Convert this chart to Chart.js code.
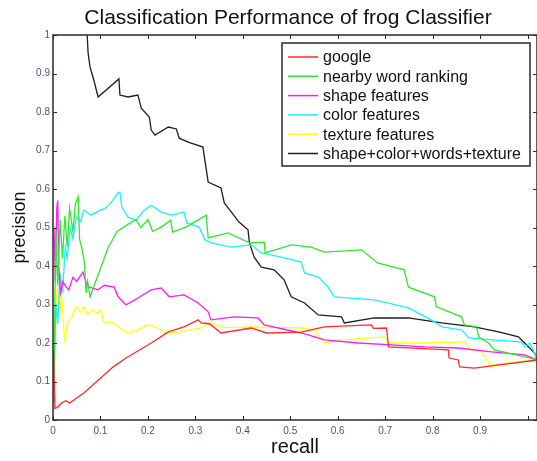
<!DOCTYPE html>
<html>
<head>
<meta charset="utf-8">
<script src="https://cdn.jsdelivr.net/npm/chart.js@4"></script>
<style>
  html, body { margin: 0; padding: 0; background: #fff; }
  #wrap { width: 537px; height: 461px; }
</style>
</head>
<body>
<div id="wrap"><canvas id="chart"></canvas></div>
<script>
// series: [recall, precision] pairs
const google = [[0.001,0.18],[0.004,0.03],[0.01,0.034],[0.018,0.044],[0.027,0.05],[0.035,0.044],[0.065,0.07],[0.127,0.138],[0.154,0.161],[0.207,0.2],[0.243,0.229],[0.276,0.242],[0.306,0.26],[0.312,0.252],[0.33,0.25],[0.354,0.226],[0.418,0.239],[0.45,0.226],[0.523,0.228],[0.572,0.242],[0.671,0.247],[0.675,0.238],[0.703,0.239],[0.707,0.19],[0.833,0.182],[0.835,0.161],[0.854,0.156],[0.857,0.138],[0.888,0.135],[1.021,0.156]];
const wordRanking = [[0.002,0.05],[0.004,0.3],[0.006,0.5],[0.01,0.35],[0.015,0.52],[0.02,0.42],[0.025,0.53],[0.03,0.45],[0.035,0.55],[0.042,0.49],[0.047,0.56],[0.053,0.58],[0.056,0.47],[0.062,0.44],[0.066,0.41],[0.07,0.33],[0.073,0.36],[0.078,0.32],[0.09,0.36],[0.116,0.447],[0.135,0.49],[0.165,0.514],[0.175,0.52],[0.185,0.5],[0.2,0.52],[0.21,0.49],[0.228,0.501],[0.248,0.519],[0.252,0.488],[0.28,0.501],[0.323,0.532],[0.327,0.473],[0.369,0.486],[0.414,0.46],[0.445,0.462],[0.447,0.434],[0.502,0.455],[0.544,0.449],[0.572,0.436],[0.65,0.442],[0.684,0.408],[0.74,0.39],[0.749,0.345],[0.804,0.32],[0.808,0.294],[0.861,0.268],[0.867,0.247],[0.893,0.242],[0.897,0.216],[0.918,0.2],[0.93,0.182],[0.994,0.164],[1.021,0.156]];
const shapeFeat = [[0.002,0.5],[0.005,0.36],[0.008,0.55],[0.01,0.57],[0.012,0.4],[0.016,0.33],[0.021,0.36],[0.025,0.35],[0.033,0.338],[0.042,0.371],[0.05,0.36],[0.063,0.384],[0.07,0.356],[0.076,0.345],[0.095,0.338],[0.108,0.35],[0.129,0.345],[0.137,0.32],[0.154,0.299],[0.179,0.317],[0.207,0.338],[0.228,0.343],[0.245,0.32],[0.276,0.325],[0.306,0.304],[0.327,0.281],[0.333,0.26],[0.382,0.268],[0.432,0.265],[0.445,0.247],[0.523,0.226],[0.572,0.208],[0.643,0.2],[0.713,0.195],[0.783,0.19],[0.854,0.187],[0.924,0.177],[0.994,0.169],[1.021,0.156]];
const colorFeat = [[0.003,0.12],[0.006,0.3],[0.01,0.25],[0.015,0.38],[0.02,0.33],[0.026,0.45],[0.03,0.42],[0.036,0.5],[0.042,0.47],[0.049,0.527],[0.058,0.515],[0.065,0.545],[0.08,0.532],[0.1,0.545],[0.11,0.55],[0.122,0.564],[0.137,0.59],[0.141,0.592],[0.145,0.553],[0.158,0.527],[0.175,0.519],[0.192,0.545],[0.207,0.558],[0.228,0.54],[0.249,0.532],[0.276,0.54],[0.282,0.512],[0.308,0.501],[0.32,0.468],[0.333,0.46],[0.376,0.449],[0.418,0.455],[0.439,0.434],[0.481,0.423],[0.523,0.41],[0.53,0.382],[0.559,0.371],[0.58,0.345],[0.593,0.32],[0.677,0.312],[0.749,0.291],[0.797,0.26],[0.82,0.242],[0.861,0.234],[0.876,0.213],[0.924,0.208],[0.987,0.203],[0.994,0.19],[1.005,0.2],[1.021,0.156]];
const textureFeat = [[0.002,0.15],[0.006,0.3],[0.01,0.35],[0.014,0.28],[0.018,0.33],[0.022,0.25],[0.025,0.2],[0.03,0.252],[0.04,0.268],[0.049,0.294],[0.058,0.28],[0.065,0.294],[0.073,0.275],[0.084,0.286],[0.093,0.276],[0.101,0.286],[0.107,0.255],[0.127,0.252],[0.143,0.237],[0.158,0.226],[0.179,0.234],[0.2,0.247],[0.22,0.24],[0.238,0.226],[0.265,0.228],[0.312,0.239],[0.333,0.252],[0.36,0.24],[0.418,0.242],[0.523,0.239],[0.55,0.234],[0.572,0.2],[0.608,0.208],[0.698,0.216],[0.707,0.2],[0.783,0.2],[0.867,0.203],[0.882,0.182],[0.905,0.18],[0.909,0.164],[0.924,0.143],[1.021,0.156]];
const combined = [[0.072,1.0],[0.074,0.953],[0.078,0.917],[0.086,0.883],[0.095,0.839],[0.139,0.886],[0.141,0.844],[0.158,0.839],[0.179,0.844],[0.186,0.81],[0.203,0.787],[0.207,0.753],[0.215,0.74],[0.243,0.761],[0.26,0.756],[0.266,0.732],[0.285,0.722],[0.316,0.709],[0.321,0.667],[0.327,0.618],[0.354,0.603],[0.361,0.564],[0.376,0.54],[0.392,0.514],[0.411,0.494],[0.414,0.46],[0.424,0.423],[0.439,0.397],[0.466,0.39],[0.487,0.364],[0.502,0.32],[0.53,0.304],[0.559,0.273],[0.608,0.268],[0.614,0.252],[0.677,0.265],[0.749,0.265],[0.819,0.252],[0.888,0.242],[0.939,0.229],[0.981,0.216],[0.994,0.2],[1.015,0.174],[1.021,0.156]];

const seriesNames = ['google', 'nearby word ranking', 'shape features', 'color features', 'texture features', 'shape+color+words+texture'];
const seriesData = [google, wordRanking, shapeFeat, colorFeat, textureFeat, combined];
const seriesColors = ['#ff2a2a', '#2ee82e', '#ff1aff', '#1af2ff', '#ffff1a', '#1e1e1e'];

const xTicks = [0, 0.1, 0.2, 0.3, 0.4, 0.5, 0.6, 0.7, 0.8, 0.9];
const yTicks = [0, 0.1, 0.2, 0.3, 0.4, 0.5, 0.6, 0.7, 0.8, 0.9, 1];

const FONT = '"Liberation Sans", Helvetica, Arial, sans-serif';

// frame, inward ticks, title and in-plot legend, like a matlab figure
const matlabFrame = {
  id: 'matlabFrame',
  afterDatasetsDraw(chart) {
    const { ctx, chartArea: a, scales } = chart;
    ctx.save();
    ctx.strokeStyle = '#2a2a2a';
    ctx.lineWidth = 1.5;
    ctx.strokeRect(a.left, a.top, a.right - a.left, a.bottom - a.top);
    ctx.beginPath();
    xTicks.concat([1]).forEach(v => {
      const x = Math.round(scales.x.getPixelForValue(v)) + 0.5;
      ctx.moveTo(x, a.bottom); ctx.lineTo(x, a.bottom - 4);
      ctx.moveTo(x, a.top); ctx.lineTo(x, a.top + 4);
    });
    yTicks.forEach(v => {
      const y = Math.round(scales.y.getPixelForValue(v)) + 0.5;
      ctx.moveTo(a.left, y); ctx.lineTo(a.left + 4, y);
      ctx.moveTo(a.right, y); ctx.lineTo(a.right - 4, y);
    });
    ctx.lineWidth = 1;
    ctx.stroke();

    // title
    ctx.fillStyle = '#111';
    ctx.font = '21px ' + FONT;
    ctx.textAlign = 'center';
    ctx.textBaseline = 'middle';
    ctx.fillText('Classification Performance of frog Classifier', 288, 18);

    // legend
    const lx = 282, ly = 43, lw = 248, lh = 123;
    ctx.fillStyle = '#fff';
    ctx.fillRect(lx, ly, lw, lh);
    ctx.strokeStyle = '#2a2a2a';
    ctx.lineWidth = 1.5;
    ctx.strokeRect(lx, ly, lw, lh);
    ctx.font = '16px ' + FONT;
    ctx.textAlign = 'left';
    chart.data.datasets.forEach((ds, i) => {
      const y = ly + 14 + i * 19.3;
      ctx.strokeStyle = ds.borderColor;
      ctx.lineWidth = 1.5;
      ctx.beginPath();
      ctx.moveTo(288, y); ctx.lineTo(318, y);
      ctx.stroke();
      ctx.fillStyle = '#111';
      ctx.fillText(ds.label, 323, y + 1);
    });
    ctx.restore();
  }
};

new Chart(document.getElementById('chart'), {
  type: 'scatter',
  data: {
    datasets: seriesNames.map((name, i) => ({
      label: name,
      data: seriesData[i].map(p => ({ x: p[0], y: p[1] })),
      showLine: true,
      borderColor: seriesColors[i],
      backgroundColor: seriesColors[i],
      borderWidth: 1.3,
      pointRadius: 0,
      tension: 0
    }))
  },
  options: {
    responsive: true,
    maintainAspectRatio: false,
    animation: false,
    layout: { padding: { top: 35, right: 0, left: 0, bottom: 0 } },
    plugins: { legend: { display: false }, title: { display: false }, tooltip: { enabled: false } },
    scales: {
      x: {
        type: 'linear', min: 0, max: 1.02,
        afterBuildTicks: s => { s.ticks = xTicks.map(v => ({ value: v })); },
        afterFit: s => { s.height = 41; },
        grid: { display: false, drawTicks: false },
        border: { display: false },
        ticks: { padding: 5, color: '#4a5570', font: { family: FONT, size: 10 }, callback: v => String(v) },
        title: { display: true, text: 'recall', color: '#111', font: { family: FONT, size: 20 }, padding: { top: 0, bottom: 2 } }
      },
      y: {
        type: 'linear', min: 0, max: 1,
        afterBuildTicks: s => { s.ticks = yTicks.map(v => ({ value: v })); },
        afterFit: s => { s.width = 53; },
        grid: { display: false, drawTicks: false },
        border: { display: false },
        ticks: { padding: 3, color: '#4a5570', font: { family: FONT, size: 10 }, callback: v => String(v) },
        title: { display: true, text: 'precision', color: '#111', font: { family: FONT, size: 18 }, padding: { top: 9, bottom: 0 } }
      }
    }
  },
  plugins: [matlabFrame]
});
</script>
</body>
</html>
